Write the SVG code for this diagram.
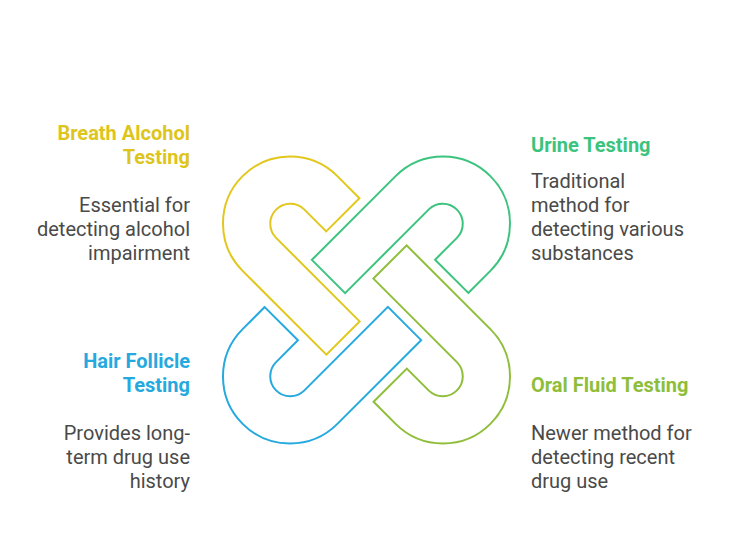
<svg xmlns="http://www.w3.org/2000/svg" width="734" height="543" viewBox="0 0 734 543">
  <style>
    .loop { fill: none; stroke-width: 2; stroke-linejoin: miter; }
    .title { font-family: Roboto, "Liberation Sans", sans-serif; font-weight: bold; font-size: 20px; }
    .body { font-family: Roboto, "Liberation Sans", sans-serif; font-size: 20px; fill: #4a4a4a; }
    .l { text-anchor: end; }
  </style>
  <defs>
    <path id="hook" d="M 359.43 198.17 L 337.38 176.12 A 67 67 0 0 0 242.62 270.88 L 326.37 354.63 L 359.61 321.39 L 275.86 237.64 A 20 20 0 0 1 304.14 209.36 L 326.19 231.41 Z"/>
  </defs>
  <rect width="734" height="543" fill="#ffffff"/>
  <g id="connectors">
    <g id="shape-breath"><use href="#hook" class="loop" stroke="#E2C81E"/></g>
    <g id="shape-urine"><use href="#hook" class="loop" stroke="#3CC37D" transform="rotate(90 366.5 300)"/></g>
    <g id="shape-oral"><use href="#hook" class="loop" stroke="#8EBE3A" transform="rotate(180 366.5 300)"/></g>
    <g id="shape-hair"><use href="#hook" class="loop" stroke="#25A9DE" transform="rotate(270 366.5 300)"/></g>
  </g>
  <g id="node-breath">
    <text class="title l" fill="#DEC51B" x="190" y="140">Breath Alcohol</text>
    <text class="title l" fill="#DEC51B" x="190" y="164">Testing</text>
    <text class="body l" x="190" y="212">Essential for</text>
    <text class="body l" x="190" y="236">detecting alcohol</text>
    <text class="body l" x="190" y="260">impairment</text>
  </g>
  <g id="node-urine">
    <text class="title" fill="#3CC37D" x="531" y="152">Urine Testing</text>
    <text class="body" x="531" y="188">Traditional</text>
    <text class="body" x="531" y="212">method for</text>
    <text class="body" x="531" y="236">detecting various</text>
    <text class="body" x="531" y="260">substances</text>
  </g>
  <g id="node-hair">
    <text class="title l" fill="#25A9DE" x="190" y="368">Hair Follicle</text>
    <text class="title l" fill="#25A9DE" x="190" y="392">Testing</text>
    <text class="body l" x="190" y="440">Provides long-</text>
    <text class="body l" x="190" y="464">term drug use</text>
    <text class="body l" x="190" y="488">history</text>
  </g>
  <g id="node-oral">
    <text class="title" fill="#8EBE3A" x="531" y="392">Oral Fluid Testing</text>
    <text class="body" x="531" y="440">Newer method for</text>
    <text class="body" x="531" y="464">detecting recent</text>
    <text class="body" x="531" y="488">drug use</text>
  </g>
</svg>
